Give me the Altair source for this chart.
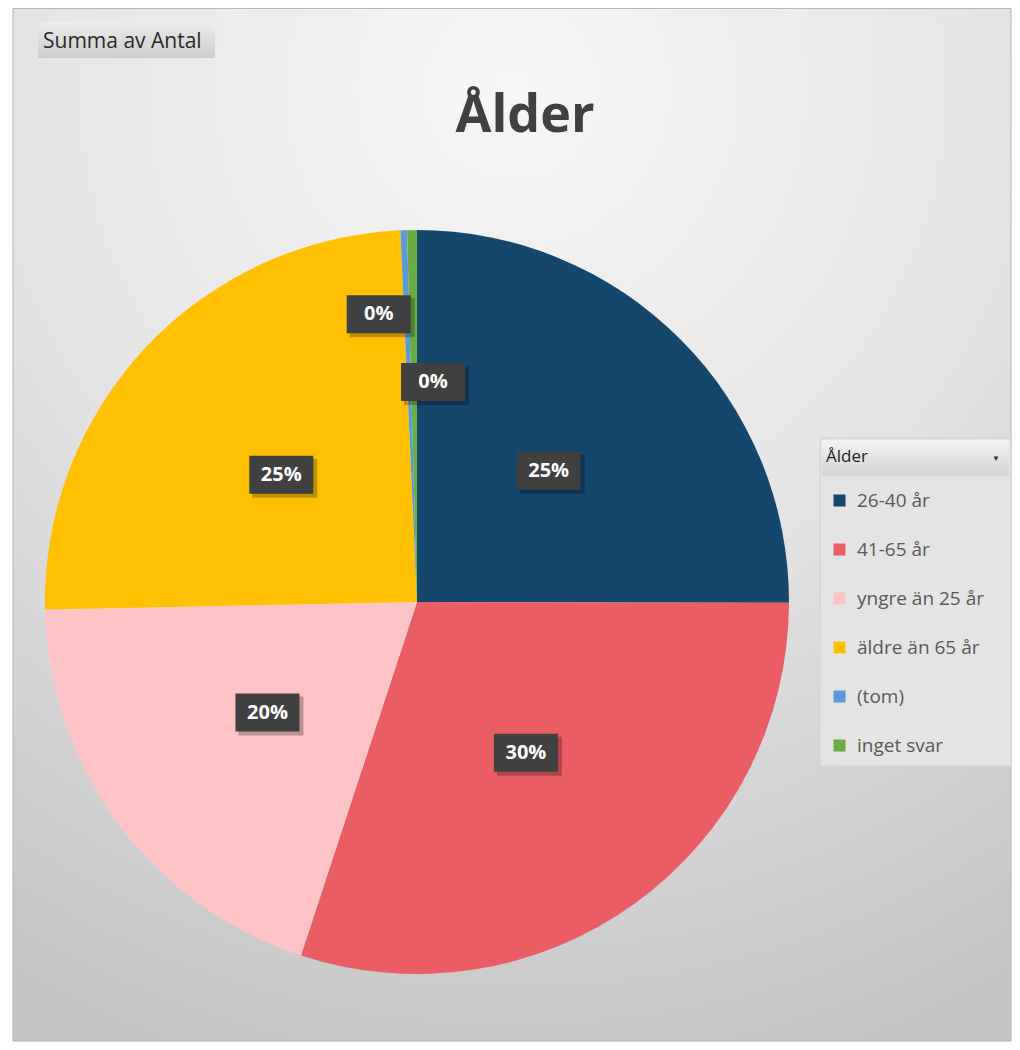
import altair as alt
import pandas as pd

categories = ["26-40 år", "41-65 år", "yngre än 25 år", "äldre än 65 år", "(tom)", "inget svar"]
counts = [176, 211, 138, 173, 2, 3]
colors = ["#15466c", "#ea5d64", "#fec3c5", "#fec000", "#5b9bd5", "#6aac46"]

df = pd.DataFrame({"cat": categories, "count": counts, "idx": list(range(len(categories)))})

W, H = 1004, 1034
CX, CY, R = 409, 594, 372

one = pd.DataFrame({"a": [0]})

bg = alt.Chart(one).mark_rect(
    fill={"gradient": "radial", "x1": 0.5, "y1": 0.08, "r1": 0, "x2": 0.5, "y2": 0.08, "r2": 1.0,
          "stops": [{"offset": 0, "color": "#f6f6f6"}, {"offset": 0.45, "color": "#e6e6e6"},
                    {"offset": 1, "color": "#c2c2c2"}]},
    stroke="#b5b5b5", strokeWidth=1,
).encode(x=alt.value(5), x2=alt.value(1003), y=alt.value(0.5), y2=alt.value(1033))

btn = alt.Chart(one).mark_rect(
    fill={"gradient": "linear", "x1": 0, "y1": 0, "x2": 0, "y2": 1,
          "stops": [{"offset": 0, "color": "#ececec"}, {"offset": 1, "color": "#cdcdcd"}]},
).encode(x=alt.value(30), x2=alt.value(207), y=alt.value(14), y2=alt.value(50))
btn_text = alt.Chart(one).mark_text(
    text="Summa av Antal", align="left", baseline="alphabetic", fontSize=21, font="Open Sans",
    color="#2a2a2a"
).encode(x=alt.value(35), y=alt.value(40))

title = alt.Chart(one).mark_text(
    text="Ålder", align="center", baseline="alphabetic", fontSize=52, font="Open Sans", fontWeight="bold",
    color="#404040"
).encode(x=alt.value(517), y=alt.value(124))

leg_box = alt.Chart(one).mark_rect(fill="#e4e4e4", stroke="#d2d2d2").encode(
    x=alt.value(812), x2=alt.value(1003), y=alt.value(430), y2=alt.value(758))
leg_head = alt.Chart(one).mark_rect(
    fill={"gradient": "linear", "x1": 0, "y1": 0, "x2": 0, "y2": 1,
          "stops": [{"offset": 0, "color": "#f3f3f3"}, {"offset": 1, "color": "#d4d4d4"}]},
).encode(x=alt.value(814), x2=alt.value(1001), y=alt.value(432), y2=alt.value(468))
leg_arrow = alt.Chart(one).mark_text(text="▼", fontSize=8, color="#333333", align="center",
                                     baseline="middle").encode(x=alt.value(988), y=alt.value(451))

base = alt.Chart(df).transform_joinaggregate(total="sum(count)").transform_window(
    cum="sum(count)", sort=[alt.SortField("idx")], frame=[None, 0]
).transform_calculate(
    mid="(datum.cum - datum.count/2)/datum.total*2*PI",
    pct="format(datum.count/datum.total, '.0%')",
    lr="datum.count/datum.total < 0.02 ? (datum.idx == 4 ? 288 : 220) : 186",
    shift="datum.idx == 4 ? -28 : (datum.idx == 5 ? 19 : 0)",
).transform_calculate(
    lx=f"{CX} + datum.lr*sin(datum.mid) + datum.shift",
    ly=f"{CY} - datum.lr*cos(datum.mid)",
)

pie = alt.Chart(df).mark_arc(outerRadius=R).encode(
    theta=alt.Theta("count:Q", stack=True),
    order=alt.Order("idx:Q"),
    color=alt.Color("cat:N", sort=categories, scale=alt.Scale(domain=categories, range=colors),
                    legend=alt.Legend(orient="none", legendX=818, legendY=441, title="Ålder",
                                      titleFontSize=17, titleFont="Open Sans", titleFontWeight="normal",
                                      titleColor="#222222", titlePadding=25,
                                      labelFontSize=19, labelFont="Open Sans", labelColor="#595959",
                                      labelOffset=8, symbolType="square", symbolSize=144,
                                      symbolStrokeWidth=0, symbolOffset=4, rowPadding=29, padding=0)),
    x=alt.value(CX), y=alt.value(CY),
)

shadow = base.mark_rect(fill="#000000", opacity=0.25).encode(
    x=alt.X("sx:Q", scale=None), x2="sx2:Q", y=alt.Y("sy:Q", scale=None), y2="sy2:Q"
).transform_calculate(sx="datum.lx - 29", sx2="datum.lx + 36", sy="datum.ly - 16", sy2="datum.ly + 23")

box = base.mark_rect(fill="#404040").encode(
    x=alt.X("bx:Q", scale=None), x2="bx2:Q", y=alt.Y("by:Q", scale=None), y2="by2:Q"
).transform_calculate(bx="datum.lx - 32", bx2="datum.lx + 32", by="datum.ly - 19", by2="datum.ly + 19")

labels = base.mark_text(color="white", fontSize=20, fontWeight="bold", font="Open Sans",
                        align="center", baseline="middle").encode(
    x=alt.X("lx:Q", scale=None), y=alt.Y("ly:Q", scale=None), text="pct:N")

chart = alt.layer(bg, btn, btn_text, title, leg_box, leg_head, leg_arrow, pie, shadow, box, labels).properties(
    width=W, height=H, autosize="none", padding=0
).configure_view(stroke=None)

chart.save("out.html", embed_options={"renderer": "svg", "actions": False})
